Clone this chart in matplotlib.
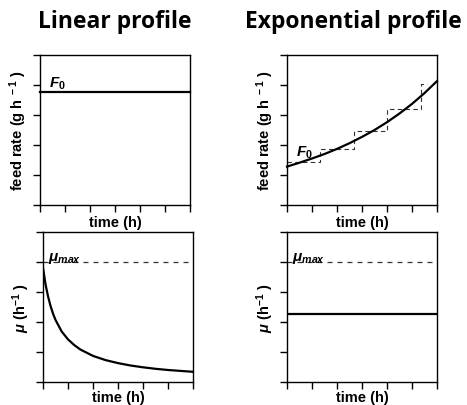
import matplotlib
matplotlib.use('Agg')
import matplotlib.pyplot as plt
import numpy as np

# data (arbitrary units)
t_axis = [0, 6]
F0_linear = 3.77
mu_max = 4.0
mu_const = 2.26

t_exp = [0, 0.5, 1, 1.5, 2, 2.5, 3, 3.5, 4, 4.5, 5, 5.5, 6]
F_exp = [1.28, 1.41, 1.55, 1.70, 1.87, 2.06, 2.27, 2.50, 2.76, 3.05, 3.37, 3.73, 4.13]

t_step = [0, 1.33, 2.67, 4.0, 5.37, 5.6]
F_step = [1.43, 1.87, 2.47, 3.20, 4.03, 4.03]

t_mu = [0, 0.1, 0.2, 0.3, 0.4, 0.5, 0.75, 1, 1.25, 1.5, 2, 2.5, 3, 3.5, 4, 4.5, 5, 5.5, 6]
mu_lin = [3.81, 3.26, 2.86, 2.54, 2.28, 2.07, 1.68, 1.42, 1.23, 1.08, 0.87,
          0.73, 0.63, 0.55, 0.49, 0.44, 0.40, 0.37, 0.34]

plt.rcParams['mathtext.fontset'] = 'custom'
plt.rcParams['mathtext.rm'] = 'Liberation Sans:bold'
plt.rcParams['mathtext.it'] = 'Liberation Sans:italic:bold'
plt.rcParams['mathtext.bf'] = 'Liberation Sans:bold'
plt.rcParams['font.family'] = 'Liberation Sans'

W, H = 467, 406
fig = plt.figure(figsize=(W / 100, H / 100), dpi=100)


def make_ax(x, top, ylabel, xpad):
    ax = fig.add_axes([x / W, 1 - (top + 150) / H, 150 / W, 150 / H])
    ax.set_xlim(0, 6)
    ax.set_ylim(0, 5)
    ax.set_xticks(range(7))
    ax.set_yticks(range(6))
    ax.tick_params(direction='out', length=5, width=1, color='black',
                   labelbottom=False, labelleft=False)
    for s in ax.spines.values():
        s.set_linewidth(1)
    ax.set_xlabel('time (h)', fontsize=10.5, fontweight='bold', labelpad=xpad)
    ax.set_ylabel(ylabel, fontsize=10.5, fontweight='bold', labelpad=3)
    return ax


ax1 = make_ax(40, 56, r'feed rate (g h$^{\ -1}$ )', 2.5)
ax2 = make_ax(287, 56, r'feed rate (g h$^{\ -1}$ )', 2.5)
ax3 = make_ax(43, 233, r'$\mu$ (h$^{-1}$ )', 1)
ax4 = make_ax(287, 233, r'$\mu$ (h$^{-1}$ )', 1)

ax1.plot(t_axis, [F0_linear, F0_linear], color='black', lw=1.6, clip_on=False)
ax1.text(0.36, 3.95, '$F_0$', fontsize=11)

ax2.plot(t_step, F_step, color='#333333', lw=0.8, ls=(0, (4, 3)), drawstyle='steps-post')
ax2.plot([0, 0], [1.28, 1.43], color='#333333', lw=0.8)
ax2.plot(t_exp, F_exp, color='black', lw=1.6, clip_on=False)
ax2.text(0.36, 1.65, '$F_0$', fontsize=11)

for ax in (ax3, ax4):
    ax.plot(t_axis, [mu_max, mu_max], color='#333333', lw=0.9, ls=(0, (4, 4)))
    ax.text(0.2, 4.07, r'$\mu_{max}$', fontsize=11)

ax3.plot(t_mu, mu_lin, color='black', lw=1.6)
ax4.plot(t_axis, [mu_const, mu_const], color='black', lw=1.6)

fig.text(115 / W, 1 - 22 / H, 'Linear profile', fontsize=16.5, fontweight='bold',
         family='Open Sans', ha='center', va='center')
fig.text(353 / W, 1 - 22 / H, 'Exponential profile', fontsize=16.5, fontweight='bold',
         family='Open Sans', ha='center', va='center')

fig.savefig('out.png', dpi=100)
